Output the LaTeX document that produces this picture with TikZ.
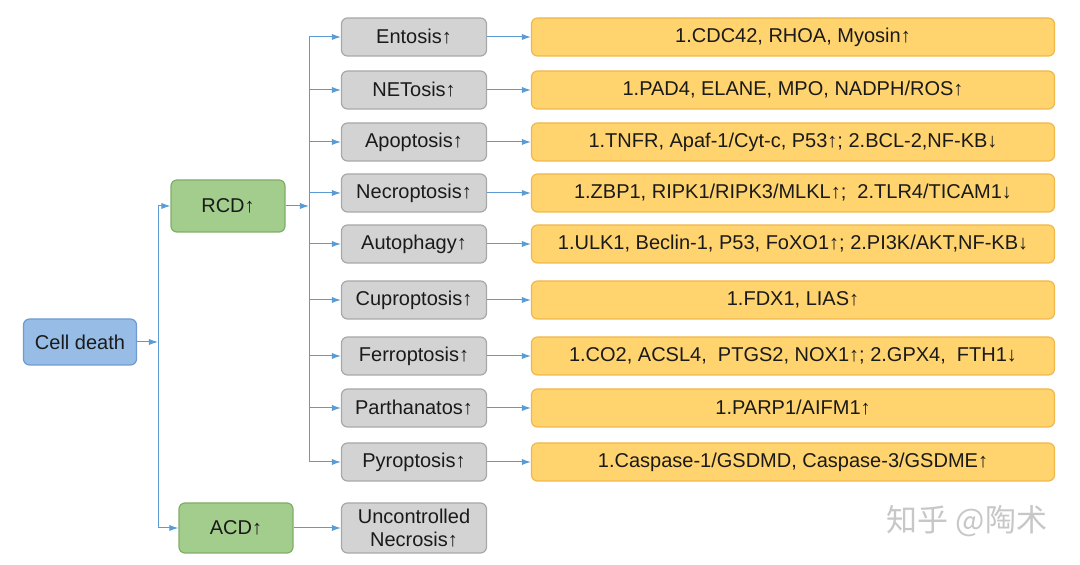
\documentclass[tikz,border=0pt]{standalone}
\usepackage{fontspec}
\setmainfont{Liberation Sans}
\newfontfamily\cjk{Noto Sans CJK SC}
\usetikzlibrary{arrows.meta,positioning}
\definecolor{LineBlue}{HTML}{5B9BD5}
\definecolor{CellFill}{HTML}{97BDE6}
\definecolor{CellDraw}{HTML}{6E9BD1}
\definecolor{GreenFill}{HTML}{A3CD8C}
\definecolor{GreenDraw}{HTML}{7FAE67}
\definecolor{GreyFill}{HTML}{D3D3D3}
\definecolor{GreyDraw}{HTML}{A8A8A8}
\definecolor{GoldFill}{HTML}{FFD36E}
\definecolor{GoldDraw}{HTML}{F0B84A}
\definecolor{DarkText}{HTML}{1A1A1A}
\tikzset{
  box/.style={rounded corners=3pt, line width=0.6pt, inner sep=1pt, align=center, text=DarkText, font=\fontsize{10}{11.5}\selectfont},
  cellbox/.style={box, draw=CellDraw, fill=CellFill, minimum width=56.5pt, minimum height=23pt},
  greenbox/.style={box, draw=GreenDraw, fill=GreenFill, minimum width=57pt, minimum height=26pt},
  greybox/.style={box, draw=GreyDraw, fill=GreyFill, minimum width=72.5pt, minimum height=19pt},
  goldbox/.style={box, draw=GoldDraw, fill=GoldFill, minimum width=261.5pt, minimum height=19pt},
  arr/.style={-{Latex[length=1.6mm,width=1.1mm]}, line width=0.5pt, draw=LineBlue},
  bus/.style={line width=0.5pt, draw=LineBlue}
}
\begin{document}
\begin{tikzpicture}[x=0.5pt,y=-0.5pt]
\useasboundingbox (0,0) rectangle (1080,565);
\node[cellbox] (cell) at (80,342) {Cell death};
\node[greenbox] (rcd) at (228,206) {RCD↑};
\node[greenbox, minimum height=25pt] (acd) at (236,528) {ACD↑};
\coordinate (busl) at (158,0);
\coordinate (busr) at (309,0);
% regulated cell death branches
\foreach \n/\y/\lab/\info in {ent/37/Entosis↑/{1.CDC42, RHOA, Myosin↑},
  net/90/NETosis↑/{1.PAD4, ELANE, MPO, NADPH/ROS↑},
  apo/142/Apoptosis↑/{1.TNFR, Apaf-1/Cyt-c, P53↑; 2.BCL-2,NF-KB↓},
  nec/193/Necroptosis↑/{1.ZBP1, RIPK1/RIPK3/MLKL↑;\ \ 2.TLR4/TICAM1↓},
  aut/244/Autophagy↑/{1.ULK1, Beclin-1, P53, FoXO1↑; 2.PI3K/AKT,NF-KB↓},
  cup/300/Cuproptosis↑/{1.FDX1, LIAS↑},
  fer/356/Ferroptosis↑/{1.CO2, ACSL4,\ \ PTGS2, NOX1↑; 2.GPX4,\ \ FTH1↓},
  par/408/Parthanatos↑/{1.PARP1/AIFM1↑},
  pyr/462/Pyroptosis↑/{1.Caspase-1/GSDMD, Caspase-3/GSDME↑}}{
  \node[greybox] (\n) at (414,\y) {\lab};
  \node[goldbox] (\n-info) at (793,\y) {\info};
  \draw[arr] (\n.west -| busr) -- (\n);
  \draw[arr] (\n) -- (\n-info);
}
\node[greybox, minimum height=25pt] (unc) at (414,528) {Uncontrolled\\Necrosis↑};
\draw[bus] (ent.west -| busr) -- (pyr.west -| busr);
\draw[bus] (busl |- rcd) -- (busl |- acd);
\draw[arr] (cell) -- (cell.east -| busl);
\draw[arr] (busl |- rcd) -- (rcd);
\draw[arr] (busl |- acd) -- (acd);
\draw[arr] (rcd) -- (rcd.east -| busr);
\draw[arr] (acd) -- (unc);
\node[text=black!22, font=\cjk\fontsize{15.5}{17}\selectfont] (mark) at (967,521) {知乎 @陶术};
\end{tikzpicture}
\end{document}
